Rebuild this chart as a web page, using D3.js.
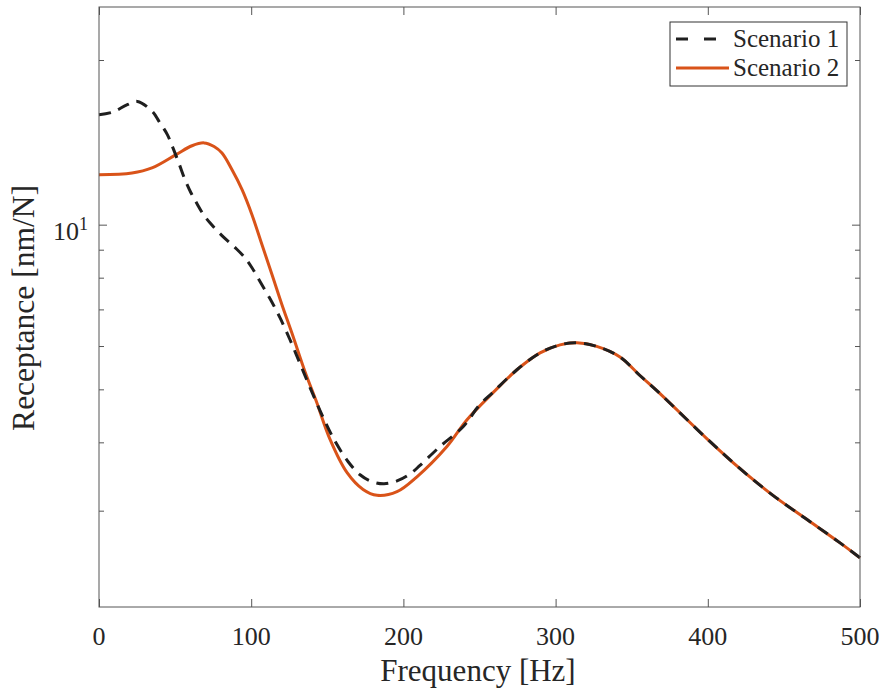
<!DOCTYPE html>
<html>
<head>
<meta charset="utf-8">
<script src="https://cdn.jsdelivr.net/npm/d3@7"></script>
<style>
  body { margin: 0; background: #fff; }
  text { font-family: "Liberation Serif", "Times New Roman", serif; fill: #262626; }
</style>
</head>
<body>
<div class="grafico"></div>
<script>
/* Datos */
const freq1 = [0, 8.7, 18.6, 25.2, 35, 39.4, 44.9, 48.2, 52.6, 56.5, 60.4, 64.4, 68.3, 72.9, 80.8, 89.4, 95.9,
  100.5, 105.8, 112.4, 118.9, 125.5, 132.1, 138.6, 146.5, 154.4, 163.6, 171.5, 179.4, 187.3, 195.8, 204.3, 210.9,
  224, 239.2, 250, 258.9, 274.6, 289.8, 302.9, 314, 327, 342.3, 355.4, 368.6, 399.5, 421.2, 442.8, 465.2,
  486.9, 500]
const scenario1 = [15.89, 16.05, 16.57, 16.80, 16.11, 15.45, 14.61, 13.90, 12.93, 12.09, 11.44, 10.92, 10.47, 10.08,
  9.55, 9.08, 8.70, 8.34, 7.87, 7.32, 6.76, 6.16, 5.57, 5.04, 4.49, 4.05, 3.69, 3.49, 3.39, 3.36, 3.40, 3.50, 3.63,
  3.93, 4.27, 4.68, 4.94, 5.43, 5.83, 6.03, 6.08, 5.99, 5.73, 5.30, 4.91, 4.06, 3.58, 3.20, 2.89, 2.62, 2.46]

const freq2 = [0, 21.7, 34.8, 50.6, 61.1, 69, 75.6, 80.8, 87.4, 94, 100.5, 107.1, 113.7, 120.2, 126.8, 135.3,
  142.6, 151.8, 163, 173.5, 182.7, 195.8, 208.9, 228.6, 241.8, 258.9, 274.6, 289.8, 302.9, 314, 327, 342.3, 355.4,
  368.6, 399.5, 421.2, 442.8, 465.2, 486.9, 500]
const scenario2 = [12.34, 12.43, 12.70, 13.43, 13.94, 14.11, 13.90, 13.52, 12.60, 11.59, 10.43, 9.19, 8.10, 7.14,
  6.33, 5.39, 4.77, 4.05, 3.52, 3.28, 3.20, 3.25, 3.46, 3.93, 4.40, 4.93, 5.43, 5.83, 6.03, 6.08, 5.99, 5.73, 5.30,
  4.91, 4.06, 3.58, 3.20, 2.89, 2.62, 2.46]

const xTicks = [0, 100, 200, 300, 400, 500]
const yMinorTicks = [3, 4, 5, 6, 7, 8, 9, 20]
const seriesNames = ['Scenario 1', 'Scenario 2']

/* Dimensiones */
const w = 883
const h = 691
const pLeft = 99, pRight = 860, pTop = 7, pBottom = 607
const axisColor = '#555'

const xScale = d3.scaleLinear().domain([0, 500]).range([pLeft, pRight])
const yScale = d3.scaleLog().domain([2, 25]).range([pBottom, pTop])

const svg = d3.select('.grafico')
  .append('svg')
  .attr('width', w)
  .attr('height', h)

/* Curvas */
const line = d3.line()
  .x(d => xScale(d[0]))
  .y(d => yScale(d[1]))
  .curve(d3.curveCatmullRom.alpha(0.5))

const plot = svg.append('g')

plot.append('path')
  .datum(freq2.map((f, i) => [f, scenario2[i]]))
  .attr('d', line)
  .attr('fill', 'none')
  .attr('stroke', '#D95319')
  .attr('stroke-width', 3)

plot.append('path')
  .datum(freq1.map((f, i) => [f, scenario1[i]]))
  .attr('d', line)
  .attr('fill', 'none')
  .attr('stroke', '#1f1f1f')
  .attr('stroke-width', 3)
  .attr('stroke-dasharray', '12,8')

/* Ejes (ticks hacia dentro, estilo MATLAB) */
const xAxisBottom = d3.axisBottom(xScale).tickValues(xTicks).tickSize(-8).tickFormat('')
const xAxisTop = d3.axisTop(xScale).tickValues(xTicks).tickSize(-8).tickFormat('')
const yAxisLeft = d3.axisLeft(yScale).tickValues([10]).tickSize(-8).tickFormat('')
const yAxisRight = d3.axisRight(yScale).tickValues([10]).tickSize(-8).tickFormat('')
const yMinorLeft = d3.axisLeft(yScale).tickValues(yMinorTicks).tickSize(-5).tickFormat('')
const yMinorRight = d3.axisRight(yScale).tickValues(yMinorTicks).tickSize(-5).tickFormat('')

const axes = svg.append('g').attr('class', 'axis')
axes.append('g').attr('transform', `translate(0,${pBottom})`).call(xAxisBottom)
axes.append('g').attr('transform', `translate(0,${pTop})`).call(xAxisTop)
axes.append('g').attr('transform', `translate(${pLeft},0)`).call(yAxisLeft)
axes.append('g').attr('transform', `translate(${pRight},0)`).call(yAxisRight)
axes.append('g').attr('transform', `translate(${pLeft},0)`).call(yMinorLeft)
axes.append('g').attr('transform', `translate(${pRight},0)`).call(yMinorRight)
axes.selectAll('.domain').remove()
axes.selectAll('line').attr('stroke', axisColor)

axes.append('rect')
  .attr('x', pLeft)
  .attr('y', pTop)
  .attr('width', pRight - pLeft)
  .attr('height', pBottom - pTop)
  .attr('fill', 'none')
  .attr('stroke', axisColor)
  .attr('stroke-width', 1)

/* Etiquetas de ticks */
svg.append('g')
  .selectAll('text')
  .data(xTicks)
  .enter()
  .append('text')
  .attr('x', d => xScale(d))
  .attr('y', 645)
  .attr('text-anchor', 'middle')
  .attr('font-size', 26)
  .text(d => d)

const yLabel = svg.append('text')
  .attr('x', 88)
  .attr('y', yScale(10) + 15)
  .attr('text-anchor', 'end')
  .attr('font-size', 26)
yLabel.append('tspan').text('10')
yLabel.append('tspan').attr('font-size', 18).attr('dy', -10).text('1')

/* Titulos de ejes */
svg.append('text')
  .attr('x', 478)
  .attr('y', 681)
  .attr('text-anchor', 'middle')
  .attr('font-size', 31)
  .text('Frequency [Hz]')

svg.append('text')
  .attr('transform', `translate(34,308) rotate(-90)`)
  .attr('text-anchor', 'middle')
  .attr('font-size', 31.5)
  .text('Receptance [nm/N]')

/* Leyenda */
const legend = svg.append('g').attr('id', 'legend')
legend.append('rect')
  .attr('x', 670)
  .attr('y', 22)
  .attr('width', 177)
  .attr('height', 64)
  .attr('fill', '#fff')
  .attr('stroke', '#333')
  .attr('stroke-width', 1)

const legendRows = legend.selectAll('g.row')
  .data(seriesNames)
  .enter()
  .append('g')
  .attr('class', 'row')
  .attr('transform', (d, i) => `translate(676,${39 + i * 29})`)

legendRows.append('line')
  .attr('x1', 0)
  .attr('x2', 53)
  .attr('stroke', (d, i) => i === 0 ? '#1f1f1f' : '#D95319')
  .attr('stroke-width', 3)
  .attr('stroke-dasharray', (d, i) => i === 0 ? '12,16' : null)

legendRows.append('text')
  .attr('x', 57)
  .attr('y', 8)
  .attr('font-size', 25)
  .text(d => d)
</script>
</body>
</html>
